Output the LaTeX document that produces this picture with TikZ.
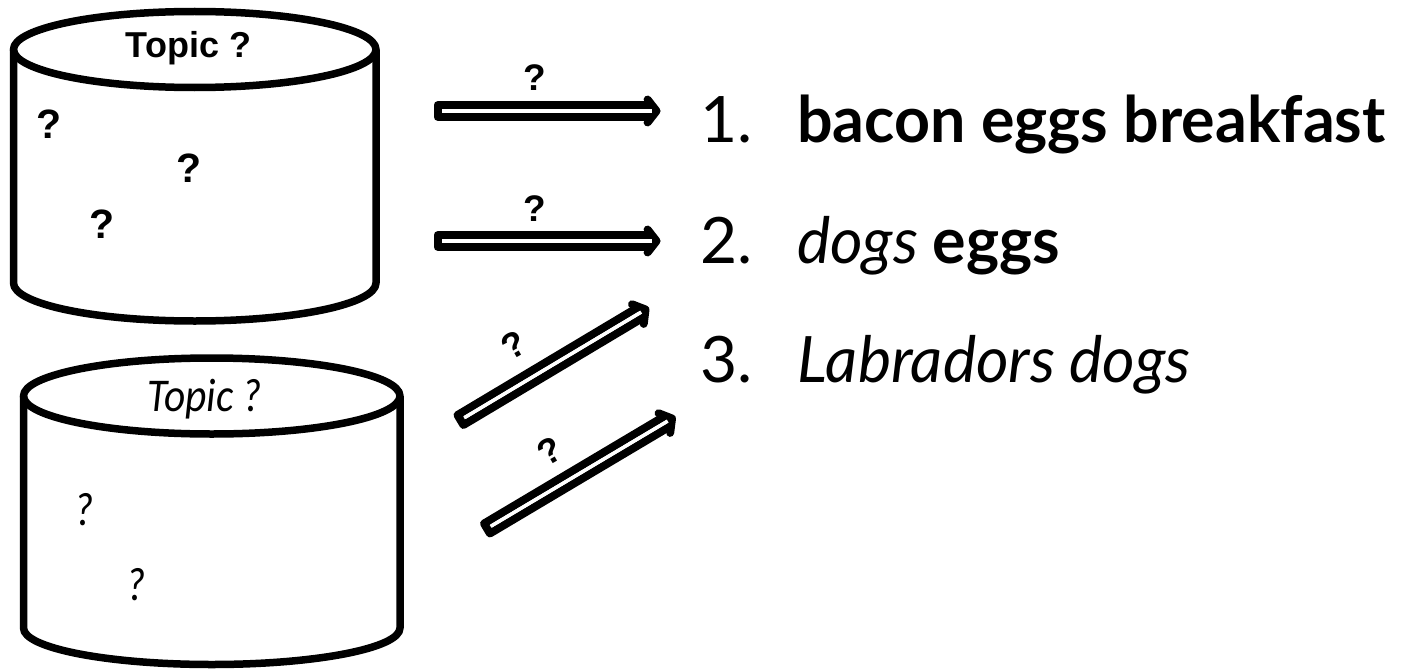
\documentclass[tikz,border=0pt]{standalone}
\usepackage{fontspec}
\usetikzlibrary{calc}
\setmainfont{Lato}
\newfontfamily\headfont{Liberation Sans}
\newfontfamily\calfont{Carlito}

\tikzset{
  cyl/.style={line width=7.5pt, line join=round},
  arrowstroke/.style={line width=8pt, line cap=round, line join=round},
  arrowcore/.style={white, line width=3.5pt},
  qbold/.style={font=\headfont\bfseries\fontsize{41}{44}\selectfont, inner sep=0pt, anchor=base},
  qital/.style={font=\calfont\itshape\fontsize{47}{50}\selectfont, inner sep=0pt, anchor=base, xscale=0.88},
  albl/.style={font=\headfont\bfseries\fontsize{37}{40}\selectfont, inner sep=0pt},
  numtxt/.style={font=\fontsize{64}{70}\selectfont, inner sep=0pt, anchor=base west},
  itemtxt/.style={font=\fontsize{64}{70}\selectfont, inner sep=0pt, anchor=base west, xscale=0.98},
}

% hollow double arrow from #1 to the chevron tip #2
\newcommand\fatarrow[2]{%
  \draw[arrowstroke]
    ($(#2)!6pt!(#1)!5.75pt!90:(#1)$) --
    ($(#1)!5.75pt!-90:(#2)$) --
    ($(#1)!5.75pt!90:(#2)$) --
    ($(#2)!6pt!(#1)!5.75pt!-90:(#1)$);
  \draw[arrowstroke] ($(#2)!14.5pt!52:(#1)$) -- (#2) -- ($(#2)!14.5pt!-52:(#1)$);
  \draw[arrowcore] ($(#1)!5pt!(#2)$) -- ($(#2)!5pt!(#1)$);
}

\begin{document}
\begin{tikzpicture}[x=1pt, y=-1pt]
\useasboundingbox (0,0) rectangle (1402,669);
\fill[white] (0,0) rectangle (1402,669);

% upper cylinder
\draw[cyl] (13.5,49.5) -- (13.5,283)
  arc[start angle=180, end angle=0, x radius=181.25, y radius=38] -- (376,49.5);
\draw[cyl] (194.75,49.5) ellipse[x radius=181.25, y radius=38];
\node[qbold, font=\headfont\bfseries\fontsize{36}{38}\selectfont] (topic1) at (188.5,57) {Topic ?};
\node[qbold] (q11) at (49.5,138) {?};
\node[qbold] (q12) at (189.5,182) {?};
\node[qbold] (q13) at (102.5,238) {?};

% lower cylinder
\draw[cyl] (23.5,396) -- (23.5,628)
  arc[start angle=180, end angle=0, x radius=188.25, y radius=36.5] -- (400,396);
\draw[cyl] (211.75,396) ellipse[x radius=188.25, y radius=38];
\node[qital] (topic2) at (205,411.7) {Topic ?};
\node[qital] (q21) at (84.5,525) {?};
\node[qital] (q22) at (136,600) {?};

% arrows
\coordinate (a1s) at (437.5,111);
\coordinate (a1e) at (656.5,111);
\coordinate (a2s) at (437.5,241);
\coordinate (a2e) at (656.5,241);
\coordinate (a3s) at (460.5,420);
\coordinate (a3e) at (645.5,309.5);
\coordinate (a4s) at (487,528.5);
\coordinate (a4e) at (672,418.5);
\fatarrow{a1s}{a1e}
\fatarrow{a2s}{a2e}
\fatarrow{a3s}{a3e}
\fatarrow{a4s}{a4e}
\node[albl, anchor=base] (l1) at (535,90) {?};
\node[albl, anchor=base] (l2) at (535,221.7) {?};
\node[albl, rotate=30, font=\headfont\bfseries\fontsize{36}{38}\selectfont] (l3) at (514,345.5) {?};
\node[albl, rotate=30, font=\headfont\bfseries\fontsize{36}{38}\selectfont] (l4) at (550,451.5) {?};

% ranked list
\node[numtxt] (n1) at (700,142.7) {1.};
\node[numtxt] (n2) at (700,263) {2.};
\node[numtxt] (n3) at (700,382) {3.};
\node[itemtxt] (i1) at (797,142.7) {\bfseries bacon eggs breakfast};
\node[itemtxt] (i2) at (797,263) {\itshape dogs \bfseries\upshape eggs};
\node[itemtxt] (i3) at (797,382) {\itshape Labradors dogs};
\end{tikzpicture}
\end{document}
